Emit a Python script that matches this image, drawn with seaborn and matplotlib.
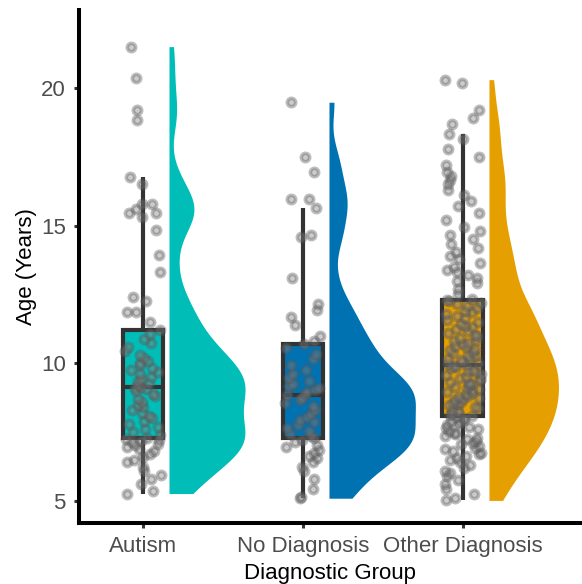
import numpy as np
import pandas as pd
import matplotlib
matplotlib.use("Agg")
import matplotlib.pyplot as plt
import seaborn as sns

groups = ["Autism", "No Diagnosis", "Other Diagnosis"]
colours = ["#00BDB8", "#0072B2", "#E69F00"]

# ages
autism_age = [5.27, 5.35, 5.6, 5.8, 5.95, 6.1, 6.25, 6.4, 6.5, 6.6, 6.7, 6.8, 6.88, 6.95,
              7.02, 7.08, 7.13, 7.18, 7.22, 7.26,
              7.3,
              7.4, 7.5, 7.6, 7.7, 7.8, 7.9, 8.0, 8.1, 8.2, 8.3, 8.4, 8.5, 8.6, 8.7, 8.8, 8.9, 8.98, 9.05, 9.1,
              9.15,
              9.2, 9.28, 9.36, 9.44, 9.52, 9.6, 9.68, 9.76, 9.84, 9.92, 10.0, 10.1, 10.2, 10.3, 10.45, 10.6,
              10.75, 10.9, 11.05,
              11.2,
              11.5, 11.85, 11.85, 12.25, 12.4, 13.3, 13.95, 14.85, 15.3, 15.45, 15.45, 15.6, 15.8, 15.8, 16.5, 16.76,
              18.85, 19.2, 20.35, 21.5]

no_diag_age = [5.1, 5.15, 5.45, 5.8, 6.1, 6.25, 6.4, 6.55, 6.65, 6.75, 6.85, 6.95, 7.05, 7.13, 7.2,
               7.27,
               7.35, 7.45, 7.55, 7.65, 7.75, 7.85, 7.95, 8.05, 8.15, 8.3, 8.45, 8.55, 8.65, 8.75,
               8.84,
               8.9, 8.97, 9.04, 9.11, 9.18, 9.26, 9.35, 9.45, 9.6, 9.75, 9.95, 10.15, 10.35, 10.55,
               10.69,
               10.8, 10.98, 11.4, 11.69, 11.95, 12.17, 13.11, 14.6, 14.65, 15.65, 15.96, 15.98, 16.96, 17.5, 19.48]

other_diag_age = [5.02, 5.1, 5.25, 5.45, 5.6, 5.75, 5.9, 6.0, 6.1, 6.2, 6.3, 6.4,
                  6.5, 6.57, 6.64, 6.7, 6.76, 6.82, 6.88, 6.94, 7.0, 7.06, 7.12, 7.18, 7.24, 7.3,
                  7.36, 7.42, 7.48, 7.54, 7.6, 7.65,
                  7.7, 7.75, 7.8, 7.85, 7.9, 7.95, 8.0, 8.04,
                  8.07,
                  8.12, 8.17, 8.22, 8.27, 8.32, 8.37, 8.42, 8.47,
                  8.52, 8.56, 8.61, 8.65, 8.7, 8.74, 8.79, 8.83, 8.88, 8.92, 8.97,
                  9.02, 9.06, 9.11, 9.15, 9.2, 9.24, 9.29, 9.33, 9.38, 9.42, 9.47,
                  9.52, 9.57, 9.62, 9.67, 9.72, 9.77, 9.82, 9.86, 9.9,
                  9.93,
                  9.96, 10.01, 10.06, 10.11, 10.16, 10.21, 10.26, 10.31, 10.36, 10.41,
                  10.47, 10.52, 10.58, 10.63, 10.69, 10.74, 10.8, 10.85, 10.91,
                  10.98, 11.04, 11.1, 11.17, 11.23, 11.3, 11.36, 11.42,
                  11.5, 11.57, 11.64, 11.71, 11.78, 11.85, 11.9,
                  12.0, 12.07, 12.14, 12.2, 12.26,
                  12.29,
                  12.35, 12.5, 12.7, 12.9,
                  13.0, 13.1, 13.2, 13.3, 13.4, 13.5, 13.65, 13.8, 13.9,
                  14.05, 14.2, 14.35, 14.5, 14.65, 14.8, 14.95,
                  15.2, 15.45, 15.7, 15.9,
                  16.1, 16.3, 16.5, 16.65, 16.8, 16.95,
                  17.2, 17.5, 17.8,
                  18.15, 18.33,
                  18.7, 18.9, 19.2, 20.17, 20.3]

ages = [autism_age, no_diag_age, other_diag_age]
df = pd.DataFrame({
    "group": [g for g, a in zip(groups, ages) for _ in a],
    "age": [v for a in ages for v in a],
})

sns.set_style("ticks")
plt.rcParams["font.family"] = ["Liberation Sans", "DejaVu Sans"]

fig = plt.figure(figsize=(5.82, 5.84), dpi=100)
ax = fig.add_axes([79 / 582, 1 - 523 / 584, 1 - 79 / 582, 513 / 584])

# half violins (area scaled, trimmed, nrd0 bandwidth like ggplot)
curves = []
for a in ages:
    a = np.asarray(a)
    iqr = np.subtract(*np.percentile(a, [75, 25]))
    bw = 0.7 * 0.9 * min(a.std(ddof=1), iqr / 1.34) * len(a) ** -0.2
    grid = np.linspace(a.min(), a.max(), 512)
    dens = np.exp(-0.5 * ((grid[:, None] - a[None, :]) / bw) ** 2).sum(1) / (len(a) * bw * np.sqrt(2 * np.pi))
    curves.append((grid, dens))
top = max(d.max() for _, d in curves)
for i, (grid, dens) in enumerate(curves):
    ax.fill_betweenx(grid, i + 0.1625, i + 0.1625 + dens / top * 0.54, color=colours[i], lw=0)

sns.boxplot(data=df, x="group", y="age", order=groups, hue="group", hue_order=groups,
            palette=colours, saturation=1, width=0.256, linewidth=3, linecolor="#333333",
            showfliers=False, showcaps=False, legend=False, ax=ax)

np.random.seed(7)
sns.stripplot(data=df, x="group", y="age", order=groups, color="#808080", edgecolor="#5a5a5a",
              linewidth=2.6, size=6, alpha=0.4, jitter=0.115, ax=ax, zorder=3)

ax.set_xlim(-0.4, 2.744)
ax.set_ylim(4.2, 22.83)
ax.set_yticks([5, 10, 15, 20])
ax.set_xticks([0, 1, 2])
ax.set_xticklabels(groups)
sns.despine(ax=ax)
for s in ["left", "bottom"]:
    ax.spines[s].set_linewidth(2.9)
    ax.spines[s].set_color("black")
ax.tick_params(length=3.5, width=2.2, color="#333333", labelcolor="#4D4D4D", labelsize=16, pad=6)
ax.set_xlabel("Diagnostic Group", fontsize=16, color="black", labelpad=4)
ax.set_ylabel("Age (Years)", fontsize=16, color="black", labelpad=3)

fig.savefig("out.png", dpi=100)
